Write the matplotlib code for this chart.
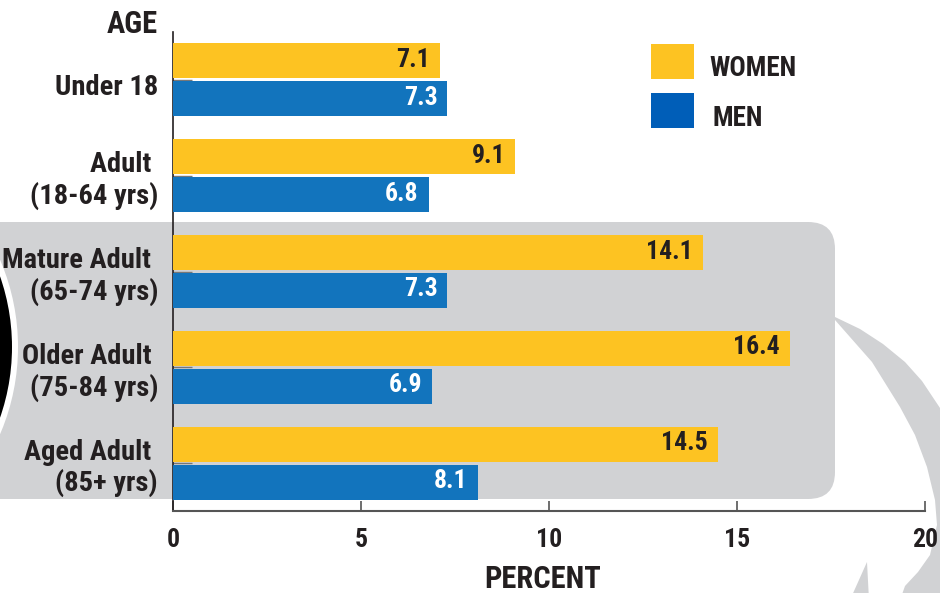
import numpy as np
import matplotlib
matplotlib.use("Agg")
import matplotlib.pyplot as plt
from matplotlib.patches import FancyBboxPatch, Circle, Polygon, Rectangle

plt.rcParams['font.family'] = ['Roboto Condensed', 'DejaVu Sans']
plt.rcParams['font.stretch'] = 'condensed'
plt.rcParams['font.weight'] = 'bold'

# --- data ---
categories = ["Under 18", "Adult \n(18-64 yrs)", "Mature Adult \n(65-74 yrs)",
              "Older Adult \n(75-84 yrs)", "Aged Adult \n(85+ yrs)"]
women = [7.1, 9.1, 14.1, 16.4, 14.5]
men = [7.3, 6.8, 7.3, 6.9, 8.1]
x_ticks = [0, 5, 10, 15, 20]

YELLOW = '#fdc322'
BLUE = '#1274bd'
BLUE_KEY = '#005eb8'
GRAY_BG = '#d1d2d4'
INK = '#231f20'

W, H = 940, 593
fig = plt.figure(figsize=(W / 100, H / 100), dpi=100)
fig.patch.set_facecolor('white')
tr = fig.dpi_scale_trans


def px(x, y):
    # pixel coords (top-down) -> inches
    return x / 100, (H - y) / 100


# --- background decorations ---
x0, y0 = px(-40, 499)
x1, y1 = px(835, 222)
bg = FancyBboxPatch((x0, y0), x1 - x0, y1 - y0, boxstyle="round,pad=0,rounding_size=0.27",
                    transform=tr, facecolor=GRAY_BG, edgecolor='none', zorder=-5)
fig.add_artist(bg)

cx, cy = px(-203, 347)
fig.add_artist(Circle((cx, cy), 2.21, transform=tr, facecolor='white', edgecolor='none', zorder=-4))
fig.add_artist(Circle((cx, cy), 2.15, transform=tr, facecolor='black', edgecolor='none', zorder=-4))

outer = [(835, 317), (860, 329), (883, 344), (905, 362), (922, 381), (940, 408), (975, 460), (975, 620)]
inner = [(893, 620), (905, 586), (918, 572), (930, 555), (937, 525), (935, 500),
         (927, 467), (915, 435), (900, 407), (872, 362), (835, 320)]
swoosh = Polygon([px(*p) for p in outer + inner], closed=True, transform=tr,
                 facecolor=GRAY_BG, edgecolor='none', zorder=-5)
fig.add_artist(swoosh)
spike = Polygon([px(850, 600), px(867, 562), px(869, 600)], closed=True, transform=tr,
                facecolor=GRAY_BG, edgecolor='none', zorder=-5)
fig.add_artist(spike)

# --- axes ---
ax = fig.add_axes([173 / W, (H - 511) / H, (925 - 173) / W, (511 - 32) / H])
ax.patch.set_visible(False)

y = np.arange(len(categories))
off = 0.198
hgt = 0.365
ax.barh(y - off, women, height=hgt, color=YELLOW, zorder=3)
ax.barh(y + off, men, height=hgt, color=BLUE, zorder=3)

for i in range(len(categories)):
    ax.annotate(f"{women[i]}", (women[i], y[i] - off), xytext=(-10, 1), textcoords='offset pixels',
                ha='right', va='center', fontsize=18.5, color=INK, zorder=4)
    ax.annotate(f"{men[i]}", (men[i], y[i] + off), xytext=(-10, 1), textcoords='offset pixels',
                ha='right', va='center', fontsize=18.5, color='white', zorder=4)
    # category label, a little below the pair centre as in the original
    dy = -5 if "\n" in categories[i] else -8
    ax.annotate(categories[i], (0, y[i]), xycoords=('axes fraction', 'data'),
                xytext=(-15, dy), textcoords='offset pixels', ha='right', va='center',
                fontsize=20.5, color=INK, linespacing=1.15, annotation_clip=False)

ax.set_xlim(0, 20)
ax.set_ylim(len(categories) - 0.5, -0.5)
ax.set_xticks(x_ticks)
ax.set_xticklabels([str(t) for t in x_ticks], fontsize=18.5, color=INK)
ax.set_yticks(y)
ax.set_yticklabels([])

ax.tick_params(axis='x', direction='in', length=7.5, width=1.2, color='#555555', pad=12)
ax.tick_params(axis='y', direction='in', length=13.5, width=1.0, color='#777777')

for s in ['top', 'right']:
    ax.spines[s].set_visible(False)
ax.spines['left'].set_color(INK)
ax.spines['left'].set_linewidth(1.2)
ax.spines['bottom'].set_color('#555555')
ax.spines['bottom'].set_linewidth(1.5)

# --- titles ---
fig.text(*px(158, 24), "AGE", ha='right', va='center', fontsize=22, color=INK, transform=tr)
fig.text(*px(543, 564), "PERCENT", ha='center', va='top', fontsize=22, color=INK, transform=tr)

# --- legend ---
for (ytop, color, label, tx) in [(44, YELLOW, "WOMEN", 709), (93, BLUE_KEY, "MEN", 713)]:
    lx, ly = px(651, ytop + 35)
    fig.add_artist(Rectangle((lx, ly), 0.43, 0.35, transform=tr, facecolor=color, edgecolor='none'))
    fig.text(*px(tx, ytop + 25), label, ha='left', va='center', fontsize=19.5, color=INK, transform=tr)

fig.savefig("out.png", dpi=100)
